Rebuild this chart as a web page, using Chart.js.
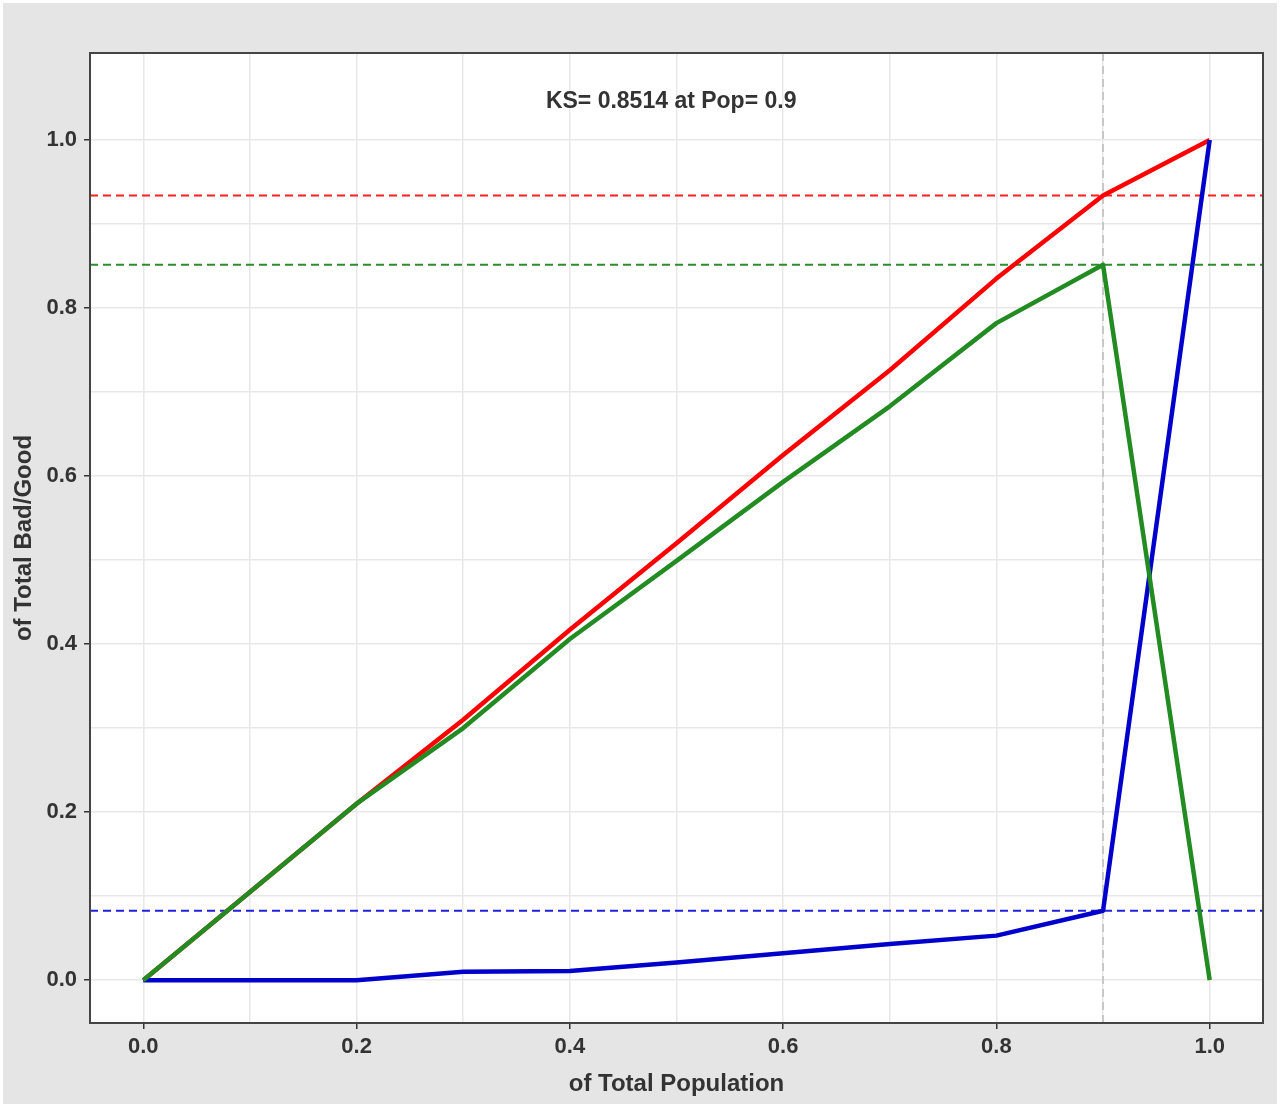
<!DOCTYPE html>
<html>
<head>
<meta charset="utf-8">
<title>KS chart</title>
<script src="https://cdn.jsdelivr.net/npm/chart.js@4.4.1/dist/chart.umd.min.js"></script>
<style>
  html, body { margin: 0; padding: 0; background: #fff; }
  .chart-wrap { position: absolute; left: 3px; top: 3px; width: 1274px; height: 1101px; background: #e5e5e5; }
  canvas { display: block; }
</style>
</head>
<body>
<div class="chart-wrap"><canvas id="ksChart" width="1274" height="1101"></canvas></div>
<script>
// cumulative shares per population decile
const popShare = [0, 0.1, 0.2, 0.3, 0.4, 0.5, 0.6, 0.7, 0.8, 0.9, 1.0];
const cumBad   = [0, 0.105, 0.21, 0.31, 0.417, 0.52, 0.625, 0.726, 0.835, 0.934, 1.0];
const cumGood  = [0, 0, 0, 0.01, 0.011, 0.021, 0.032, 0.043, 0.053, 0.0826, 1.0];
const ksDiff   = [0, 0.105, 0.21, 0.30, 0.406, 0.499, 0.593, 0.683, 0.782, 0.8514, 0];

const ksValue = 0.8514;
const ksPop = 0.9;
const badAtKs = 0.934;
const goodAtKs = 0.0826;

const gridBreaks = [0, 0.1, 0.2, 0.3, 0.4, 0.5, 0.6, 0.7, 0.8, 0.9, 1.0];
const majorBreaks = [0, 0.2, 0.4, 0.6, 0.8, 1.0];
const tickLabels = ['0.0', '0.2', '0.4', '0.6', '0.8', '1.0'];

const xLimits = [-0.05, 1.05];
const yLimits = [-0.051, 1.1035];

const ksText = 'KS= ' + ksValue + ' at Pop= ' + ksPop;
const ksTextPos = [0.495, 1.045];

const fontFamily = "'Liberation Sans', Arial, sans-serif";
const textColor = '#333333';

const toPoints = values => values.map((v, i) => ({ x: popShare[i], y: v }));

const hLine = (y, color) => ({
    data: [{ x: xLimits[0], y: y }, { x: xLimits[1], y: y }],
    borderColor: color,
    borderWidth: 2,
    borderDash: [8, 5],
    order: 3,
});

const isMajor = value => majorBreaks.some(v => Math.abs(v - value) < 1e-9);

const labelFor = value => {
    const i = majorBreaks.findIndex(v => Math.abs(v - value) < 1e-9);
    return i >= 0 ? tickLabels[i] : '';
};

const axisOptions = (limits, title, titlePadding) => ({
    type: 'linear',
    min: limits[0],
    max: limits[1],
    bounds: 'data',
    afterBuildTicks: scale => {
        scale.ticks = gridBreaks.map(v => ({ value: v }));
    },
    ticks: {
        autoSkip: false,
        maxRotation: 0,
        color: textColor,
        font: { family: fontFamily, size: 22, weight: 'bold' },
        callback: value => labelFor(value),
    },
    grid: {
        color: '#e8e8e8',
        lineWidth: 1.5,
        tickLength: 6,
        tickWidth: 1.5,
        tickColor: ctx => (ctx.tick && isMajor(ctx.tick.value) ? '#333333' : 'rgba(0,0,0,0)'),
    },
    border: { display: false },
    title: {
        display: true,
        text: title,
        color: textColor,
        font: { family: fontFamily, size: 24, weight: 'bold' },
        padding: titlePadding,
    },
});

// white panel behind, dark frame on top, KS label
const panelPlugin = {
    id: 'panel',
    beforeDraw: chart => {
        const { ctx, chartArea } = chart;
        ctx.save();
        ctx.fillStyle = '#ffffff';
        ctx.fillRect(chartArea.left, chartArea.top, chartArea.width, chartArea.height);
        ctx.restore();
    },
    afterDraw: chart => {
        const { ctx, chartArea, scales } = chart;
        ctx.save();
        ctx.strokeStyle = '#444444';
        ctx.lineWidth = 2;
        ctx.strokeRect(chartArea.left, chartArea.top, chartArea.width, chartArea.height);
        ctx.fillStyle = textColor;
        ctx.font = 'bold 23px ' + fontFamily;
        ctx.textAlign = 'center';
        ctx.textBaseline = 'middle';
        ctx.fillText(ksText, scales.x.getPixelForValue(ksTextPos[0]), scales.y.getPixelForValue(ksTextPos[1]));
        ctx.restore();
    },
};

const xAxis = axisOptions(xLimits, 'of Total Population', { top: 0, bottom: 5 });
xAxis.ticks.padding = 5;
xAxis.afterFit = scale => { scale.height = 81; };

const yAxis = axisOptions(yLimits, 'of Total Bad/Good', { top: 7, bottom: 0 });
yAxis.ticks.padding = 7;
yAxis.afterFit = scale => { scale.width = 87; };

new Chart(document.getElementById('ksChart'), {
    type: 'line',
    data: {
        datasets: [
            { label: 'KS', data: toPoints(ksDiff), borderColor: '#228b22', borderWidth: 4.5, order: 0 },
            { label: 'Good', data: toPoints(cumGood), borderColor: '#0000cd', borderWidth: 4.5, order: 1 },
            { label: 'Bad', data: toPoints(cumBad), borderColor: '#ff0000', borderWidth: 4.5, order: 2 },
            hLine(badAtKs, '#ff2020'),
            hLine(ksValue, '#2e8b2e'),
            hLine(goodAtKs, '#2020dd'),
            {
                data: [{ x: ksPop, y: yLimits[0] }, { x: ksPop, y: yLimits[1] }],
                borderColor: '#bdbdbd',
                borderWidth: 1.5,
                borderDash: [8, 5],
                order: 4,
            },
        ],
    },
    options: {
        responsive: false,
        animation: false,
        devicePixelRatio: 1,
        layout: { padding: { top: 50, right: 14, left: 0, bottom: 0 } },
        elements: {
            point: { radius: 0, hoverRadius: 0 },
            line: { tension: 0, fill: false, borderCapStyle: 'butt', borderJoinStyle: 'round' },
        },
        plugins: {
            legend: { display: false },
            tooltip: { enabled: false },
        },
        scales: { x: xAxis, y: yAxis },
    },
    plugins: [panelPlugin],
});
</script>
</body>
</html>
